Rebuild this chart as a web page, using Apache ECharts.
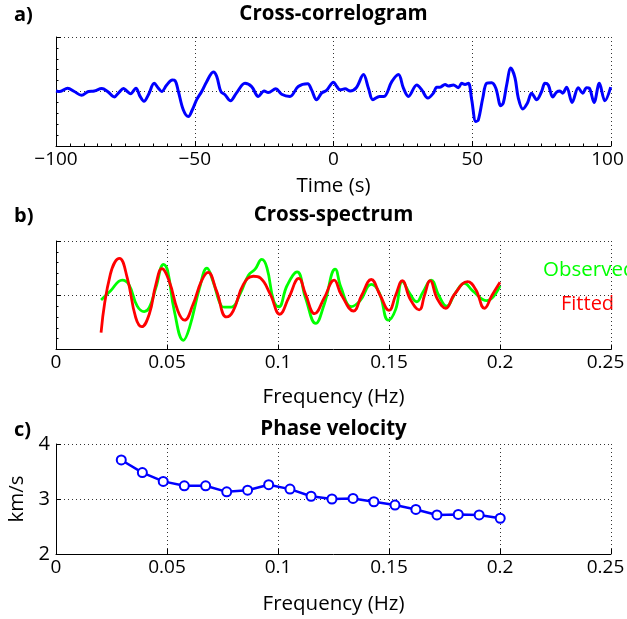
<!DOCTYPE html>
<html>
<head>
<meta charset="utf-8">
<script src="https://cdn.jsdelivr.net/npm/echarts@6/dist/echarts.min.js"></script>
<style>
html,body{margin:0;padding:0;background:#fff;}
#chart{width:627px;height:619px;}
</style>
</head>
<body>
<div id="chart"></div>
<script>
// Panel a: cross-correlogram (time in s, normalized amplitude)
const corrTime = [-100,-98.6,-95.8,-93.4,-90.8,-88.3,-86.2,-83.5,-81.4,-79,-77.2,-75.7,-74.5,-73.1,-71.2,-69.7,-68.3,-66.7,-64.6,-63.1,-61.9,-60.1,-58.1,-57.1,-55.9,-54.1,-52.3,-50.9,-49.3,-47.5,-45.7,-43.3,-42.1,-40.6,-39.1,-37.1,-35,-31.9,-29.5,-27.1,-25,-23.5,-20.8,-18.7,-15.7,-12.7,-9.3,-7.9,-6.1,-4.3,-2.5,0,1.2,2.4,4.2,6,8.2,10.8,12.6,14.2,16.6,18.2,21,23.4,25.2,27,30,31.8,34,36,37.2,38.4,40.2,41.4,43.2,45,46.2,47.4,48.6,49.8,51.3,52.2,53.8,55.2,57,58.5,60.3,61.2,62.4,63.9,65.4,66.6,68.2,69.9,71.4,73.2,75,76.2,77.4,79,80.4,81.6,82.6,84,86,88.2,89.8,91.2,92.2,93.9,95.8,97.8,99.9];
const corrAmp = [0.01,0,0.06,0,-0.07,0,0.01,0.055,0,-0.1,-0.01,0.055,0.01,-0.04,0.06,-0.09,-0.18,-0.06,0.15,0.06,0,0.12,0.21,0.2,0,-0.34,-0.46,-0.34,-0.15,0,0.18,0.36,0.28,0,-0.06,-0.17,-0.03,0.15,0.09,-0.09,0.01,-0.02,0.05,-0.05,-0.09,0.09,0.14,0.03,-0.15,-0.03,0.02,0.17,0.09,0.03,0.05,0.01,0.07,0.31,0.06,-0.15,-0.09,-0.09,0.18,0.31,0.06,-0.09,0.12,0.03,-0.12,-0.03,0.08,0.08,0.13,0.1,0.12,0.07,0.15,0.13,0.15,-0.15,-0.55,-0.52,-0.12,0.15,0.16,0.06,-0.26,-0.21,0.12,0.43,0.25,-0.12,-0.32,-0.21,-0.03,-0.15,0,0.15,0.12,-0.1,-0.01,0.01,-0.03,0.08,-0.2,0.07,-0.03,0.07,0.06,-0.2,0.15,-0.17,0.08];

// Panel b: cross-spectrum
const obsFreq = [0.0203,0.0245,0.0298,0.0328,0.0366,0.0397,0.042,0.045,0.0485,0.0503,0.0533,0.0574,0.0601,0.0647,0.068,0.0707,0.0745,0.076,0.079,0.0829,0.0867,0.0897,0.0927,0.095,0.098,0.1003,0.1041,0.1086,0.1124,0.117,0.1208,0.1258,0.1284,0.133,0.137,0.142,0.1456,0.1497,0.153,0.156,0.1595,0.1625,0.1652,0.169,0.1725,0.176,0.18,0.184,0.1877,0.194,0.2];
const obsVal = [-0.086,0.08,0.28,0.2,-0.2,-0.3,-0.23,0.14,0.57,0.45,-0.29,-0.83,-0.6,0.14,0.5,0.26,-0.2,-0.22,-0.22,0.02,0.37,0.48,0.66,0.51,-0.1,-0.215,0.18,0.43,-0.05,-0.52,-0.17,0.48,0.14,-0.21,-0.1,0.2,0.05,-0.46,-0.26,0.25,0.02,-0.12,0.05,0.28,-0.01,-0.2,0.05,0.22,0.08,-0.1,0.17];
const fitFreq = [0.0203,0.0245,0.0286,0.0321,0.0359,0.0386,0.042,0.045,0.0477,0.051,0.0549,0.0579,0.0617,0.0655,0.0685,0.0723,0.0768,0.0798,0.0844,0.0889,0.092,0.0965,0.1008,0.1048,0.1094,0.1124,0.1165,0.1208,0.1253,0.1284,0.134,0.1377,0.142,0.146,0.15,0.153,0.156,0.1595,0.1636,0.166,0.1685,0.1718,0.1756,0.1792,0.1854,0.189,0.193,0.1964,0.2];
const fitVal = [-0.69,0.39,0.68,0.32,-0.41,-0.58,-0.35,0.2,0.49,0.26,-0.29,-0.46,-0.17,0.26,0.42,0.08,-0.4,-0.29,0.2,0.35,0.32,0.02,-0.35,-0.05,0.31,0.02,-0.34,-0.05,0.28,0.02,-0.29,0,0.29,0,-0.28,0,0.27,-0.07,-0.27,0,0.27,-0.07,-0.24,0,0.25,0.11,-0.24,0,0.24];

// Panel c: phase velocity
const velFreq = [0.0294,0.0389,0.0483,0.0578,0.0674,0.0769,0.0863,0.0958,0.1054,0.1149,0.1243,0.1338,0.1432,0.1527,0.1621,0.1716,0.1812,0.1906,0.2001];
const velVal = [3.71,3.48,3.32,3.24,3.24,3.13,3.16,3.26,3.18,3.05,3.00,3.01,2.95,2.89,2.81,2.71,2.72,2.71,2.65];

const titles = ['Cross-correlogram','Cross-spectrum','Phase velocity'];
const panelLabels = ['a)','b)','c)'];
const xNames = ['Time (s)','Frequency (Hz)','Frequency (Hz)'];
const legendNames = ['Observed','Fitted'];

const FONT = '"Open Sans", "Noto Sans", sans-serif';
const zip = (a,b) => a.map((v,i)=>[v,b[i]]);

const gridLine = {show:true, lineStyle:{type:[1,3], color:'#333', width:1}};
const axisLine = {show:true, onZero:false, lineStyle:{color:'#000', width:1}};
const tick = {show:true, inside:true, length:5, lineStyle:{color:'#000'}};
const minor = (n)=>({show:true, splitNumber:n, length:2.5, lineStyle:{color:'#000', width:1}});
const lbl = {color:'#000', fontSize:19, fontFamily:FONT};
const nameLbl = {color:'#000', fontSize:20.5, fontFamily:FONT};

// last tick label kept inside the figure (shifted left like the original)
const edgeRich = (pad) => ({e:{padding:[0,pad,0,0], fontSize:19, fontFamily:FONT, color:'#000'}});
const freqFmt = v => (Math.abs(v-0.25) < 1e-9 ? '{e|' + v + '}' : String(v));
const timeFmt = v => (v === 100 ? '{e|100}' : String(v).replace('-','\u2212'));

const grids = [
  {left:56, right:16, top:37, height:109, outerBoundsMode:'none', containLabel:false},
  {left:56, right:16, top:241, height:108.5, outerBoundsMode:'none', containLabel:false},
  {left:56, right:16, top:444, height:110, outerBoundsMode:'none', containLabel:false}
];

const chart = echarts.init(document.getElementById('chart'), null, {renderer:'canvas'});
chart.setOption({
  animation:false,
  backgroundColor:'#fff',
  textStyle:{fontFamily:FONT},
  title: titles.map((t,i)=>({
    text:t, left:333.5, textAlign:'center',
    top:[4,205,419][i], padding:0,
    textStyle:{fontSize:20.5, fontWeight:'bold', color:'#000', fontFamily:FONT}
  })),
  grid: grids,
  xAxis: [
    {gridIndex:0, type:'value', min:-100, max:100, interval:50,
     axisLine:axisLine, axisTick:tick, minorTick:minor(10), splitLine:gridLine,
     axisLabel:Object.assign({margin:4, formatter:timeFmt, rich:edgeRich(7)}, lbl),
     name:xNames[0], nameLocation:'middle', nameGap:30, nameTextStyle:nameLbl},
    {gridIndex:1, type:'value', min:0, max:0.25, interval:0.05,
     axisLine:axisLine, axisTick:tick, splitLine:gridLine,
     axisLabel:Object.assign({margin:4, formatter:freqFmt, rich:edgeRich(11)}, lbl),
     name:xNames[1], nameLocation:'middle', nameGap:37, nameTextStyle:nameLbl},
    {gridIndex:2, type:'value', min:0, max:0.25, interval:0.05,
     axisLine:axisLine, axisTick:tick, splitLine:gridLine,
     axisLabel:Object.assign({margin:4, formatter:freqFmt, rich:edgeRich(11)}, lbl),
     name:xNames[2], nameLocation:'middle', nameGap:40, nameTextStyle:nameLbl}
  ],
  yAxis: [
    {gridIndex:0, type:'value', min:-1, max:1, interval:1,
     axisLine:axisLine, axisTick:tick, minorTick:minor(5), splitLine:gridLine,
     axisLabel:{show:false}},
    {gridIndex:1, type:'value', min:-1, max:1, interval:1,
     axisLine:axisLine, axisTick:tick, minorTick:minor(5), splitLine:gridLine,
     axisLabel:{show:false}},
    {gridIndex:2, type:'value', min:2, max:4, interval:1,
     axisLine:axisLine, axisTick:tick, splitLine:gridLine,
     axisLabel:Object.assign({margin:6}, lbl, {fontSize:20}),
     name:'km/s', nameLocation:'middle', nameGap:22, nameRotate:90, nameTextStyle:nameLbl}
  ],
  series: [
    {type:'line', xAxisIndex:0, yAxisIndex:0, data:zip(corrTime,corrAmp),
     showSymbol:false, smooth:0.35, lineStyle:{color:'#0000ff', width:3}, itemStyle:{color:'#0000ff'}},
    {name:legendNames[0], type:'line', xAxisIndex:1, yAxisIndex:1, data:zip(obsFreq,obsVal),
     showSymbol:false, smooth:0.45, lineStyle:{color:'#00ff00', width:2.8}, itemStyle:{color:'#00ff00'}},
    {name:legendNames[1], type:'line', xAxisIndex:1, yAxisIndex:1, data:zip(fitFreq,fitVal),
     showSymbol:false, smooth:0.45, lineStyle:{color:'#ff0000', width:2.8}, itemStyle:{color:'#ff0000'}},
    {type:'line', xAxisIndex:2, yAxisIndex:2, data:zip(velFreq,velVal),
     symbol:'emptyCircle', symbolSize:9, lineStyle:{color:'#0000ff', width:2.5},
     itemStyle:{color:'#0000ff', borderWidth:2.5}}
  ],
  graphic: [
    ...panelLabels.map((t,i)=>({type:'text', left:14, top:[5,206,420][i],
      style:{text:t, fontSize:20, fontWeight:'bold', fill:'#000', fontFamily:FONT}})),
    {type:'text', left:543, top:260, style:{text:legendNames[0], fontSize:20.5, fill:'#00ff00', fontFamily:FONT}},
    {type:'text', left:561, top:294, style:{text:legendNames[1], fontSize:20, fill:'#ff0000', fontFamily:FONT}}
  ]
});
</script>
</body>
</html>
